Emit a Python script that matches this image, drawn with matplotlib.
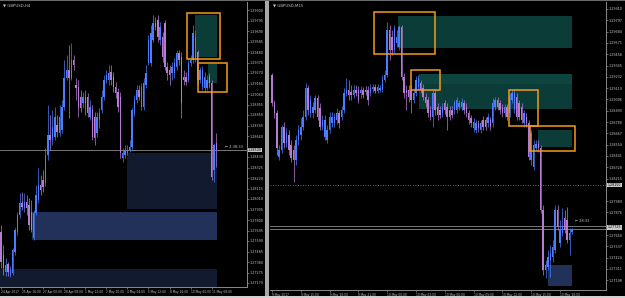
import matplotlib
matplotlib.use("Agg")
import matplotlib.pyplot as plt
import matplotlib.transforms as mtransforms
from matplotlib.patches import Rectangle
from matplotlib.ticker import FormatStrFormatter
import numpy as np

# ---------------- data: left panel (GBPUSD, H4) ----------------
left_open = [1.2768, 1.2745, 1.2728, 1.2736, 1.2725, 1.2727, 1.2748, 1.2768, 1.2785, 1.2797,
             1.2792, 1.2798, 1.2795, 1.2788, 1.2762, 1.2787, 1.2800, 1.2815, 1.2820, 1.2817,
             1.2845, 1.2865, 1.2860, 1.2863, 1.2875, 1.2867, 1.2870, 1.2893, 1.2922, 1.2930,
             1.2922, 1.2940, 1.2915, 1.2913, 1.2903, 1.2897, 1.2903, 1.2903, 1.2883, 1.2890,
             1.2883, 1.2867, 1.2880, 1.2890, 1.2903, 1.2920, 1.2920, 1.2928, 1.2923, 1.2913,
             1.2908, 1.2903, 1.2842, 1.2845, 1.2847, 1.2850, 1.2853, 1.2887, 1.2900, 1.2910,
             1.2893, 1.2893, 1.2915, 1.2937, 1.2937, 1.2960, 1.2977, 1.2980, 1.2960, 1.2963,
             1.2977, 1.2933, 1.2930, 1.2927, 1.2927, 1.2933, 1.2947, 1.2943, 1.2923, 1.2923,
             1.2920, 1.2937, 1.2940, 1.2940, 1.2948, 1.2920, 1.2913, 1.2912, 1.2912, 1.2923,
             1.2917, 1.2830, 1.2857]
left_high = [1.2775, 1.2755, 1.2742, 1.2738, 1.2734, 1.2752, 1.2772, 1.2788, 1.2807, 1.2808,
             1.2807, 1.2805, 1.2802, 1.2800, 1.2790, 1.2815, 1.2832, 1.2825, 1.2830, 1.2852,
             1.2895, 1.2885, 1.2890, 1.2893, 1.2885, 1.2895, 1.2900, 1.2940, 1.2945, 1.2955,
             1.2957, 1.2945, 1.2922, 1.2920, 1.2910, 1.2908, 1.2910, 1.2907, 1.2900, 1.2895,
             1.2888, 1.2888, 1.2892, 1.2910, 1.2925, 1.2930, 1.2935, 1.2935, 1.2928, 1.2918,
             1.2912, 1.2908, 1.2852, 1.2855, 1.2855, 1.2860, 1.2892, 1.2905, 1.2915, 1.2915,
             1.2917, 1.2922, 1.2935, 1.2965, 1.2975, 1.2985, 1.2983, 1.2985, 1.2978, 1.2968,
             1.2980, 1.2938, 1.2935, 1.2938, 1.2942, 1.2950, 1.2950, 1.2948, 1.2930, 1.2928,
             1.2940, 1.2945, 1.2975, 1.2970, 1.2950, 1.2933, 1.2934, 1.2928, 1.2925, 1.2927,
             1.2920, 1.2857, 1.2867]
left_low = [1.2732, 1.2725, 1.2724, 1.2724, 1.2723, 1.2725, 1.2745, 1.2765, 1.2782, 1.2790,
            1.2788, 1.2785, 1.2770, 1.2768, 1.2760, 1.2785, 1.2797, 1.2805, 1.2808, 1.2814,
            1.2840, 1.2850, 1.2855, 1.2860, 1.2863, 1.2864, 1.2867, 1.2890, 1.2920, 1.2882,
            1.2920, 1.2930, 1.2900, 1.2883, 1.2888, 1.2892, 1.2885, 1.2883, 1.2880, 1.2860,
            1.2855, 1.2863, 1.2872, 1.2887, 1.2900, 1.2917, 1.2915, 1.2915, 1.2908, 1.2902,
            1.2888, 1.2842, 1.2838, 1.2842, 1.2845, 1.2848, 1.2850, 1.2884, 1.2897, 1.2900,
            1.2890, 1.2890, 1.2912, 1.2935, 1.2934, 1.2958, 1.2970, 1.2958, 1.2955, 1.2938,
            1.2930, 1.2920, 1.2915, 1.2920, 1.2922, 1.2930, 1.2935, 1.2882, 1.2915, 1.2915,
            1.2918, 1.2934, 1.2937, 1.2938, 1.2915, 1.2917, 1.2910, 1.2908, 1.2910, 1.2912,
            1.2820, 1.2818, 1.2833]
left_close = [1.2738, 1.2732, 1.2735, 1.2728, 1.2730, 1.2750, 1.2770, 1.2785, 1.2797, 1.2793,
              1.2798, 1.2792, 1.2775, 1.2770, 1.2787, 1.2805, 1.2815, 1.2810, 1.2813, 1.2845,
              1.2865, 1.2860, 1.2873, 1.2883, 1.2868, 1.2883, 1.2893, 1.2922, 1.2930, 1.2922,
              1.2940, 1.2935, 1.2912, 1.2892, 1.2892, 1.2903, 1.2897, 1.2887, 1.2893, 1.2863,
              1.2862, 1.2883, 1.2887, 1.2903, 1.2920, 1.2925, 1.2927, 1.2920, 1.2913, 1.2907,
              1.2893, 1.2847, 1.2847, 1.2850, 1.2850, 1.2853, 1.2890, 1.2900, 1.2910, 1.2903,
              1.2913, 1.2917, 1.2927, 1.2960, 1.2967, 1.2977, 1.2973, 1.2963, 1.2973, 1.2943,
              1.2933, 1.2927, 1.2925, 1.2933, 1.2937, 1.2947, 1.2940, 1.2897, 1.2920, 1.2918,
              1.2937, 1.2940, 1.2967, 1.2963, 1.2920, 1.2930, 1.2930, 1.2923, 1.2920, 1.2917,
              1.2823, 1.2855, 1.2850]

left_time_idx = [0, 9, 18, 27, 36, 45, 54, 63, 72, 81, 90]
left_time_labels = ["24 Apr 2017", "25 Apr 16:00", "27 Apr 00:00", "28 Apr 08:00",
                    "1 May 12:00", "2 May 20:00", "4 May 04:00", "5 May 12:00",
                    "8 May 16:00", "10 May 00:00", "11 May 08:00"]

# zones: start index, end index, bottom price, top price
left_teal_start = [82.9, 88.5]
left_teal_end = [92.3, 92.3]
left_teal_bot = [1.2943, 1.2917]
left_teal_top = [1.2985, 1.2936]
left_navy_start = [53.8, -0.5]
left_navy_end = [92.3, 92.3]
left_navy_bot = [1.2791, 1.2713]
left_navy_top = [1.2847, 1.2731]
left_blue_start = [13.2]
left_blue_end = [92.3]
left_blue_bot = [1.2760]
left_blue_top = [1.2788]
left_box_start = [79.5, 84.2]
left_box_end = [93.6, 96.6]
left_box_bot = [1.2941, 1.2908]
left_box_top = [1.2987, 1.2937]
left_bid = 1.2850

# ---------------- data: right panel (GBPUSD, M15) ----------------
right_open = [1.2925, 1.2897, 1.2887, 1.2843, 1.2850, 1.2873, 1.2857, 1.2865, 1.2855, 1.2850,
              1.2840, 1.2860, 1.2865, 1.2873, 1.2883, 1.2912, 1.2887, 1.2887, 1.2890, 1.2902,
              1.2892, 1.2873, 1.2863, 1.2860, 1.2870, 1.2877, 1.2877, 1.2880, 1.2887, 1.2883,
              1.2890, 1.2907, 1.2910, 1.2908, 1.2905, 1.2910, 1.2910, 1.2907, 1.2910, 1.2910,
              1.2910, 1.2907, 1.2911, 1.2913, 1.2909, 1.2910, 1.2910, 1.2920, 1.2925, 1.2970,
              1.2963, 1.2950, 1.2957, 1.2953, 1.2973, 1.2923, 1.2910, 1.2910, 1.2910, 1.2900,
              1.2907, 1.2913, 1.2917, 1.2912, 1.2903, 1.2900, 1.2890, 1.2883, 1.2907, 1.2893,
              1.2890, 1.2887, 1.2897, 1.2893, 1.2890, 1.2890, 1.2890, 1.2890, 1.2893, 1.2893,
              1.2897, 1.2893, 1.2887, 1.2882, 1.2872, 1.2870, 1.2877, 1.2870, 1.2880, 1.2880,
              1.2877, 1.2880, 1.2877, 1.2893, 1.2900, 1.2897, 1.2893, 1.2887, 1.2893, 1.2887,
              1.2900, 1.2890, 1.2903, 1.2897, 1.2893, 1.2877, 1.2883, 1.2877, 1.2840, 1.2833,
              1.2852, 1.2856, 1.2852, 1.2790, 1.2730, 1.2733, 1.2740, 1.2743, 1.2750, 1.2790,
              1.2757, 1.2767, 1.2782, 1.2780, 1.2760, 1.2768]
right_high = [1.2927, 1.2900, 1.2890, 1.2855, 1.2875, 1.2878, 1.2872, 1.2870, 1.2860, 1.2855,
              1.2865, 1.2875, 1.2882, 1.2890, 1.2917, 1.2915, 1.2905, 1.2898, 1.2905, 1.2905,
              1.2897, 1.2885, 1.2885, 1.2875, 1.2888, 1.2888, 1.2887, 1.2892, 1.2890, 1.2894,
              1.2912, 1.2922, 1.2920, 1.2915, 1.2915, 1.2915, 1.2914, 1.2914, 1.2913, 1.2914,
              1.2914, 1.2916, 1.2916, 1.2916, 1.2916, 1.2915, 1.2925, 1.2930, 1.2978, 1.2975,
              1.2970, 1.2975, 1.2970, 1.2975, 1.2975, 1.2927, 1.2915, 1.2915, 1.2915, 1.2912,
              1.2924, 1.2925, 1.2920, 1.2916, 1.2907, 1.2903, 1.2894, 1.2910, 1.2910, 1.2897,
              1.2894, 1.2897, 1.2900, 1.2897, 1.2894, 1.2894, 1.2900, 1.2903, 1.2900, 1.2902,
              1.2900, 1.2897, 1.2890, 1.2885, 1.2882, 1.2880, 1.2880, 1.2880, 1.2884, 1.2883,
              1.2887, 1.2883, 1.2902, 1.2903, 1.2903, 1.2900, 1.2896, 1.2896, 1.2896, 1.2907,
              1.2910, 1.2910, 1.2907, 1.2900, 1.2897, 1.2890, 1.2887, 1.2880, 1.2870, 1.2860,
              1.2860, 1.2860, 1.2855, 1.2795, 1.2740, 1.2750, 1.2755, 1.2760, 1.2795, 1.2795,
              1.2780, 1.2792, 1.2790, 1.2793, 1.2772, 1.2772]
right_low = [1.2894, 1.2882, 1.2845, 1.2840, 1.2847, 1.2852, 1.2853, 1.2845, 1.2838, 1.2818,
             1.2835, 1.2855, 1.2860, 1.2870, 1.2880, 1.2885, 1.2883, 1.2882, 1.2887, 1.2880,
             1.2870, 1.2870, 1.2860, 1.2857, 1.2867, 1.2873, 1.2873, 1.2876, 1.2872, 1.2880,
             1.2887, 1.2904, 1.2900, 1.2900, 1.2902, 1.2904, 1.2897, 1.2902, 1.2902, 1.2905,
             1.2895, 1.2904, 1.2908, 1.2907, 1.2907, 1.2908, 1.2908, 1.2918, 1.2923, 1.2940,
             1.2945, 1.2947, 1.2953, 1.2950, 1.2920, 1.2902, 1.2890, 1.2898, 1.2887, 1.2897,
             1.2904, 1.2910, 1.2907, 1.2900, 1.2893, 1.2883, 1.2880, 1.2873, 1.2885, 1.2880,
             1.2882, 1.2883, 1.2886, 1.2870, 1.2880, 1.2882, 1.2886, 1.2887, 1.2890, 1.2890,
             1.2886, 1.2883, 1.2876, 1.2873, 1.2868, 1.2867, 1.2868, 1.2867, 1.2870, 1.2870,
             1.2873, 1.2870, 1.2873, 1.2890, 1.2890, 1.2886, 1.2883, 1.2883, 1.2880, 1.2883,
             1.2897, 1.2887, 1.2880, 1.2880, 1.2877, 1.2873, 1.2873, 1.2840, 1.2835, 1.2830,
             1.2850, 1.2848, 1.2787, 1.2725, 1.2722, 1.2730, 1.2723, 1.2738, 1.2747, 1.2770,
             1.2753, 1.2764, 1.2767, 1.2757, 1.2745, 1.2766]
right_close = [1.2897, 1.2887, 1.2852, 1.2850, 1.2873, 1.2857, 1.2867, 1.2850, 1.2842, 1.2840,
               1.2860, 1.2870, 1.2873, 1.2883, 1.2912, 1.2890, 1.2900, 1.2893, 1.2902, 1.2883,
               1.2873, 1.2880, 1.2880, 1.2870, 1.2883, 1.2883, 1.2883, 1.2887, 1.2877, 1.2890,
               1.2907, 1.2910, 1.2905, 1.2905, 1.2910, 1.2907, 1.2900, 1.2910, 1.2905, 1.2908,
               1.2900, 1.2912, 1.2913, 1.2909, 1.2913, 1.2912, 1.2920, 1.2925, 1.2970, 1.2950,
               1.2950, 1.2972, 1.2963, 1.2973, 1.2923, 1.2907, 1.2907, 1.2903, 1.2900, 1.2907,
               1.2920, 1.2922, 1.2910, 1.2903, 1.2897, 1.2887, 1.2883, 1.2907, 1.2890, 1.2885,
               1.2885, 1.2893, 1.2890, 1.2883, 1.2883, 1.2885, 1.2897, 1.2900, 1.2897, 1.2898,
               1.2890, 1.2887, 1.2880, 1.2877, 1.2878, 1.2877, 1.2872, 1.2877, 1.2873, 1.2873,
               1.2883, 1.2873, 1.2897, 1.2900, 1.2893, 1.2890, 1.2887, 1.2893, 1.2883, 1.2903,
               1.2907, 1.2907, 1.2883, 1.2883, 1.2880, 1.2887, 1.2877, 1.2843, 1.2867, 1.2855,
               1.2856, 1.2852, 1.2790, 1.2730, 1.2735, 1.2743, 1.2747, 1.2753, 1.2790, 1.2773,
               1.2770, 1.2773, 1.2770, 1.2760, 1.2767, 1.2771]

right_time_idx = [0, 12, 24, 36, 48, 60, 72, 84, 96, 108, 120]
right_time_labels = ["9 May 2017", "9 May 15:00", "9 May 18:00", "9 May 21:00",
                     "10 May 00:00", "10 May 03:00", "10 May 06:00", "10 May 09:00",
                     "10 May 12:00", "10 May 15:00", "10 May 18:00"]

right_teal_start = [52.5, 61.25, 110.8]
right_teal_end = [125.0, 125.0, 125.0]
right_teal_bot = [1.2952, 1.2891, 1.2853]
right_teal_top = [1.2984, 1.2926, 1.2870]
right_tealhi_start = [61.25]
right_tealhi_end = [125.0]
right_tealhi_bot = [1.2916]
right_tealhi_top = [1.2926]
right_blue_start = [115.0]
right_blue_end = [125.0]
right_blue_bot = [1.2714]
right_blue_top = [1.2735]
right_box_start = [42.5, 58.0, 98.75, 107.5]
right_box_end = [68.0, 70.0, 110.8, 126.25]
right_box_bot = [1.2946, 1.2910, 1.2874, 1.2849]
right_box_top = [1.2988, 1.2930, 1.2910, 1.2874]
right_bid = 1.2771
right_ask = 1.2774
right_level = 1.2815

# ---------------- styling ----------------
BLUE = "#4a7dff"
PURPLE = "#b77bd4"
TEAL = "#0b3c38"
NAVY = "#121a30"
ZBLUE = "#21315a"
ORANGE = "#f59a16"
GRID = "#8a8a8a"
TXT = "#c4c4c4"

W, H = 625, 298
fig = plt.figure(figsize=(W / 100, H / 100), dpi=100, facecolor="black")


def px_axes(x0, y0, x1, y1):
    ax = fig.add_axes([x0 / W, 1 - y1 / H, (x1 - x0) / W, (y1 - y0) / H])
    ax.set_facecolor("black")
    return ax


def draw_candles(ax, o, h, l, c, width):
    o, h, l, c = map(np.asarray, (o, h, l, c))
    x = np.arange(len(o))
    up = c >= o
    cols = np.where(up, BLUE, PURPLE)
    ax.vlines(x, l, h, colors=cols, lw=0.5, zorder=3)
    bottom = np.minimum(o, c)
    height = np.maximum(np.abs(c - o), 0.00004)
    ax.bar(x, height, width, bottom=bottom, color=cols, lw=0, zorder=4)


def draw_zones(ax, s, e, b, t, color, z=1):
    for x0, x1, y0, y1 in zip(s, e, b, t):
        ax.add_patch(Rectangle((x0, y0), x1 - x0, y1 - y0, facecolor=color,
                               edgecolor="none", zorder=z))


def draw_boxes(ax, s, e, b, t):
    for x0, x1, y0, y1 in zip(s, e, b, t):
        ax.add_patch(Rectangle((x0, y0), x1 - x0, y1 - y0, facecolor="none",
                               edgecolor=ORANGE, lw=1.1, zorder=6))


def style_axes(ax, ticks, tidx, tlabels, tsize):
    for sp in ("top", "left"):
        ax.spines[sp].set_visible(False)
    for sp in ("right", "bottom"):
        ax.spines[sp].set_color(GRID)
        ax.spines[sp].set_linewidth(0.7)
    ax.yaxis.tick_right()
    ax.set_yticks(ticks)
    ax.yaxis.set_major_formatter(FormatStrFormatter("%.5f"))
    ax.set_xticks(tidx)
    ax.set_xticklabels(tlabels, ha="left")
    ax.tick_params(axis="y", colors=GRID, labelcolor=TXT, labelsize=2.4,
                   length=1.2, width=0.5, pad=0.8)
    ax.tick_params(axis="x", colors=GRID, labelcolor=TXT, labelsize=tsize,
                   length=1.5, width=0.5, pad=0.8)


def free_ticks(ticks, avoid, gap):
    return [t for t in ticks if all(abs(t - a) > gap for a in avoid)]


# ---------------- left panel ----------------
axL = px_axes(0, 2, 247, 287)
draw_zones(axL, left_navy_start, left_navy_end, left_navy_bot, left_navy_top, NAVY)
draw_zones(axL, left_blue_start, left_blue_end, left_blue_bot, left_blue_top, ZBLUE)
draw_zones(axL, left_teal_start, left_teal_end, left_teal_bot, left_teal_top, TEAL)
draw_candles(axL, left_open, left_high, left_low, left_close, 0.6)
draw_boxes(axL, left_box_start, left_box_end, left_box_bot, left_box_top)
axL.axhline(left_bid, color=GRID, lw=0.6, zorder=2)
axL.set_xlim(-0.43, 105.1)
axL.set_ylim(1.2713, 1.2998)
style_axes(axL, free_ticks(np.arange(1.29900, 1.27100, -0.00105), [left_bid], 0.0006),
           left_time_idx, left_time_labels, 2.1)
axL.text(95.5, left_bid + 0.0003, "\u2190 2:38:33", color=TXT, fontsize=2.6,
         va="center", ha="left", zorder=7)
trL = mtransforms.blended_transform_factory(axL.transAxes, axL.transData)
axL.text(1.004, left_bid, f"{left_bid:.5f}", transform=trL, fontsize=2.4, color="black",
         va="center", ha="left", clip_on=False,
         bbox=dict(fc="#c8c8c8", ec="none", pad=0.3), zorder=8)
axL.text(0.012, 0.995, "\u25bc GBPUSD,H4", transform=axL.transAxes, fontsize=2.8,
         color=TXT, va="top", ha="left")

# ---------------- right panel ----------------
axR = px_axes(270, 2, 606, 290)
draw_zones(axR, right_teal_start, right_teal_end, right_teal_bot, right_teal_top, TEAL)
draw_zones(axR, right_tealhi_start, right_tealhi_end, right_tealhi_bot, right_tealhi_top,
           "#0e4540", z=1.5)
draw_zones(axR, right_blue_start, right_blue_end, right_blue_bot, right_blue_top, ZBLUE)
draw_candles(axR, right_open, right_high, right_low, right_close, 0.6)
draw_boxes(axR, right_box_start, right_box_end, right_box_bot, right_box_top)
axR.axhline(right_level, color=GRID, lw=0.6, ls=(0, (1, 2)), zorder=2)
axR.axhline(right_bid, color=GRID, lw=0.6, zorder=2)
axR.axhline(right_ask, color=GRID, lw=0.6, zorder=2)
axR.set_xlim(-0.83, 139.2)
axR.set_ylim(1.2710, 1.2998)
style_axes(axR, free_ticks(np.arange(1.29910, 1.27100, -0.00113),
                           [right_bid, right_ask, right_level], 0.0006),
           right_time_idx, right_time_labels, 2.1)
axR.text(126.3, right_ask + 0.0005, "\u2190 28:33", color=TXT, fontsize=2.6,
         va="center", ha="left", zorder=7)
trR = mtransforms.blended_transform_factory(axR.transAxes, axR.transData)
for v in ((right_bid + right_ask) / 2, right_level):
    axR.text(1.005, v, f"{v:.5f}", transform=trR, fontsize=2.3, color="black",
             va="center", ha="left", clip_on=False,
             bbox=dict(fc="#c8c8c8", ec="none", pad=0.25), zorder=8)
axR.text(0.008, 0.995, "\u25bc GBPUSD,M15", transform=axR.transAxes, fontsize=2.8,
         color=TXT, va="top", ha="left")

# window chrome
fig.add_artist(Rectangle((265 / W, 0), 4 / W, 1, transform=fig.transFigure,
                         facecolor="#a8a8a8", edgecolor="none"))
fig.add_artist(Rectangle((0, 0), 1, 2.5 / H, transform=fig.transFigure,
                         facecolor="#d0d0d0", edgecolor="none"))
fig.add_artist(Rectangle((0, 1 - 1.2 / H), 1, 1.2 / H, transform=fig.transFigure,
                         facecolor="#6a6a6a", edgecolor="none"))

fig.savefig("out.png", dpi=100, facecolor="black")
